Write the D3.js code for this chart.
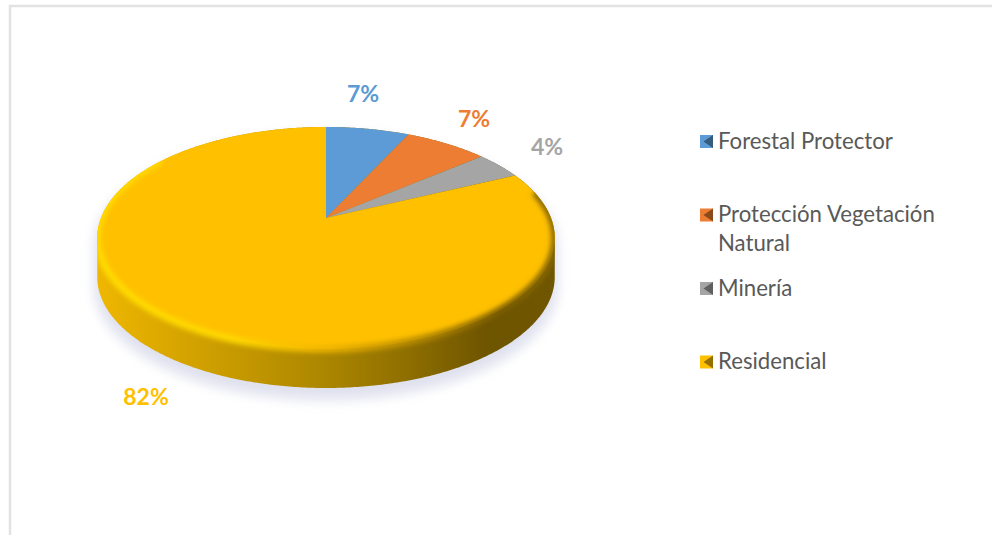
<!DOCTYPE html>
<html>
<head>
<meta charset="utf-8">
<script src="https://d3js.org/d3.v7.min.js"></script>
<style>
  html, body { margin: 0; background: #fff; }
  svg { display: block; }
  text { font-family: Lato, "Open Sans", sans-serif; }
</style>
</head>
<body>
<div id="chart"></div>
<script>
var categories = ['Forestal Protector', 'Protección Vegetación Natural', 'Minería', 'Residencial'];
var values = [7, 7, 4, 82];
var labels = ['7%', '7%', '4%', '82%'];
var colors = ['#5b9bd5', '#ed7d31', '#a5a5a5', '#ffc000'];

var width = 992, height = 535;

// pie tilt, the near edge is drawn bigger than the far one
var cx = 326, cy = 218, rx = 225, ry = 107.4, tilt = 0.18, depth = 39;

// data label centres, placed by hand like in the original
var labelPos = [[363, 94], [474, 119], [547, 147], [146, 397]];

function project(a) {
  var u = Math.sin(a), v = -Math.cos(a), k = 1 - tilt * v;
  return [cx + rx * u / k, cy + ry * v / k];
}

function rimPoints(a0, a1) {
  var n = Math.max(2, Math.ceil((a1 - a0) / 0.01));
  return d3.range(n + 1).map(function(i) { return project(a0 + (a1 - a0) * i / n); });
}

var line = d3.line();
var svg = d3.select('#chart').append('svg').attr('width', width).attr('height', height);
var defs = svg.append('defs');

function blur(id, s) {
  defs.append('filter').attr('id', id)
    .attr('x', '-20%').attr('y', '-20%').attr('width', '140%').attr('height', '140%')
    .append('feGaussianBlur').attr('stdDeviation', s);
}
blur('soft', 0.7);
blur('bevel', 2.8);
blur('shadow', 6);
blur('swatch', 0.7);

function gradient(id, stops) {
  var g = defs.append('linearGradient').attr('id', id)
    .attr('gradientUnits', 'userSpaceOnUse')
    .attr('x1', cx - 230).attr('x2', cx + 230).attr('y1', 0).attr('y2', 0);
  stops.forEach(function(s) {
    g.append('stop').attr('offset', s[0]).attr('stop-color', s[1]);
  });
}
gradient('sideFill', [[0, '#efb700'], [0.2, '#d4a300'], [0.5, '#ab8600'], [0.68, '#8e6e00'], [0.85, '#6e5400'], [1, '#705600']]);
gradient('rimFill', [[0, '#ffdc00'], [0.3, '#ffd800'], [0.5, '#efb400'], [0.7, '#b68a00'], [0.88, '#7c5e00'], [1, '#8a6a00']]);

// border of the chart box, only top and left are in the picture
svg.append('path')
  .attr('d', line([[10, height], [10, 6], [width, 6]]))
  .attr('fill', 'none').attr('stroke', '#e2e2e2').attr('stroke-width', 2.4);

var rim = rimPoints(0, 2 * Math.PI);
var iRight = d3.greatestIndex(rim, function(p) { return p[0]; });
var iLeft = d3.leastIndex(rim, function(p) { return p[0]; });

// outline of face and wall together
var lower = rim.slice(iRight, iLeft + 1).map(function(p) { return [p[0], p[1] + depth]; });
var upper = rim.slice(iLeft).concat(rim.slice(0, iRight + 1));
var silhouette = line(lower.concat(upper)) + 'Z';

defs.append('clipPath').attr('id', 'pieClip').append('path').attr('d', silhouette);

svg.append('path')
  .attr('d', silhouette)
  .attr('transform', 'translate(0,9)')
  .attr('fill', '#dfe1ee').attr('stroke', '#dfe1ee').attr('stroke-width', 6)
  .attr('filter', 'url(#shadow)');

var pieG = svg.append('g').attr('filter', 'url(#soft)');

pieG.append('path').attr('d', silhouette).attr('fill', 'url(#sideFill)');

var arcs = d3.pie().sort(null)(values);

pieG.selectAll('path.slice').data(arcs).enter().append('path')
  .attr('class', 'slice')
  .attr('d', function(d) {
    return line([[cx, cy]].concat(rimPoints(d.startAngle, d.endAngle))) + 'Z';
  })
  .attr('fill', function(d, i) { return colors[i]; });

// bevel between face and wall
pieG.append('g').attr('clip-path', 'url(#pieClip)').append('path')
  .attr('d', line(rimPoints(Math.PI * 0.42, Math.PI * 1.7)))
  .attr('fill', 'none')
  .attr('stroke', 'url(#rimFill)')
  .attr('stroke-width', 7)
  .attr('filter', 'url(#bevel)');

svg.selectAll('text.pct').data(labels).enter().append('text')
  .attr('class', 'pct')
  .attr('x', function(d, i) { return labelPos[i][0]; })
  .attr('y', function(d, i) { return labelPos[i][1]; })
  .attr('dy', '0.35em')
  .attr('text-anchor', 'middle')
  .attr('font-size', 23)
  .attr('font-weight', 700)
  .attr('fill', function(d, i) { return colors[i]; })
  .text(function(d) { return d; });

// legend
var legendY = d3.scalePoint().domain(categories).range([141.5, 362]);
var legend = svg.selectAll('g.legend').data(categories).enter().append('g')
  .attr('class', 'legend')
  .attr('transform', function(d) { return 'translate(700,' + legendY(d) + ')'; });

var swatch = legend.append('g').attr('filter', 'url(#swatch)');
swatch.append('rect')
  .attr('x', 0).attr('y', -6.5).attr('width', 13).attr('height', 13)
  .attr('fill', function(d, i) { return colors[i]; });
swatch.append('path')
  .attr('d', line([[13, -6.5], [3.5, 0], [13, 6.5]]) + 'Z')
  .attr('fill', function(d, i) { return d3.color(colors[i]).darker(1.5); });

var legendText = legend.append('text')
  .attr('x', 18).attr('y', 7)
  .attr('font-size', 22.2)
  .attr('fill', '#595959');

// wrap long names inside the legend column
legendText.each(function(d) {
  var el = d3.select(this), words = d.split(' '), cur = [];
  var ts = el.append('tspan').attr('x', 18);
  words.forEach(function(w) {
    cur.push(w);
    ts.text(cur.join(' '));
    if (ts.node().getComputedTextLength() > 235 && cur.length > 1) {
      cur.pop();
      ts.text(cur.join(' '));
      cur = [w];
      ts = el.append('tspan').attr('x', 18).attr('dy', 29).text(w);
    }
  });
});
</script>
</body>
</html>
